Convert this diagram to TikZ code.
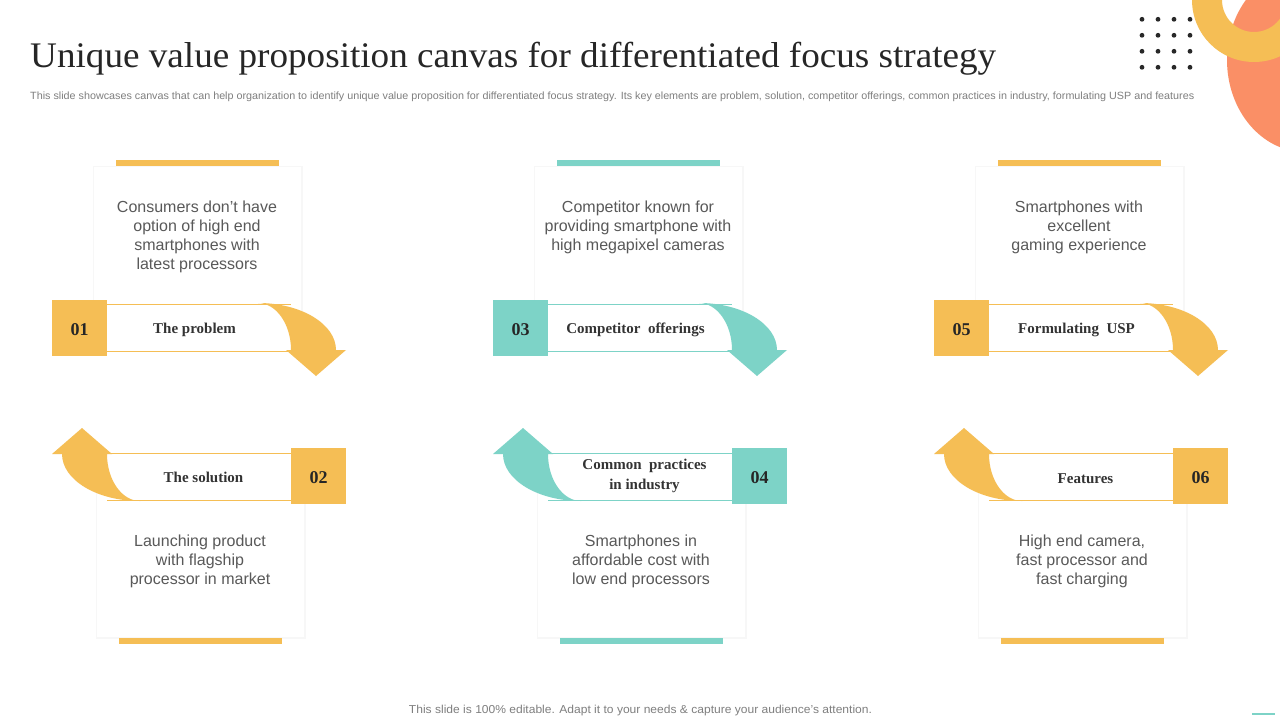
\documentclass[tikz,border=0pt]{standalone}
\usepackage{fontspec}
\setmainfont{Liberation Sans}
\newfontfamily\serifff{Liberation Serif}
\usepackage{graphicx}
\definecolor{cyel}{RGB}{245,190,85}
\definecolor{cteal}{RGB}{125,211,199}
\definecolor{corange}{RGB}{250,143,102}
\definecolor{ctitle}{RGB}{38,38,38}
\definecolor{cbody}{RGB}{89,89,89}
\definecolor{clabel}{RGB}{51,51,51}
\definecolor{csub}{RGB}{127,127,127}
\definecolor{cdot}{RGB}{40,40,40}
\tikzset{
  cardtext/.style={font=\fontsize{16}{19}\selectfont, text=cbody, align=center, inner sep=0pt, anchor=north},
  lbltext/.style={font=\serifff\bfseries\fontsize{15}{20}\selectfont, text=clabel, align=center, inner sep=0pt},
  numtext/.style={font=\serifff\bfseries\fontsize{18}{20}\selectfont, text=ctitle, inner sep=0pt},
  shadowbox/.style={fill=black!3},
  cardbox/.style={fill=white},
}
\newcommand{\unitshapes}[1]{%
  \fill[shadowbox] (92.5,165.5) rectangle (302.5,330);
  \fill[cardbox] (94,167) rectangle (301,330);
  \fill[#1] (116,160) rectangle (279,166);
  \fill[white] (107,304) rectangle (291,351);
  \draw[#1, line width=0.9pt] (107,304) -- (291,304) (107,351) -- (291,351);
  \fill[#1] (258,303) .. controls (301,303) and (336,324) .. (336,350)
     -- (346,350) -- (316,376) -- (286,350) -- (291,350)
     .. controls (291,324) and (276,303) .. (258,303) -- cycle;
  \fill[#1] (52,300) rectangle (107,356);
}
\begin{document}
\begin{tikzpicture}[x=1pt,y=-1pt]
\clip (0,0) rectangle (1280,720);
\fill[white] (0,0) rectangle (1280,720);

% decoration top right
\fill[corange] (1305,60) ellipse [x radius=78, y radius=92];
\fill[cyel, even odd rule] (1254,0) circle [radius=62] (1254,0) circle [radius=32];
\foreach \i in {0,1,2,3}{\foreach \j in {0,1,2,3}{
  \fill[cdot] (1142+16*\i,19.3+16*\j) circle [radius=2.4];}}

% title and subtitle
\node[anchor=base west, inner sep=0pt, text=ctitle] (title) at (30,67)
  {\resizebox{966pt}{\height}{\serifff\fontsize{36}{40}\selectfont Unique value proposition canvas for differentiated focus strategy}};
\node[anchor=west, inner sep=0pt, text=csub] (subtitle) at (30,97)
  {\resizebox{1164pt}{\height}{\fontsize{10.5}{12}\selectfont This slide showcases canvas that can help organization to identify unique value proposition for differentiated focus strategy. Its key elements are problem, solution, competitor offerings, common practices in industry, formulating USP and features}};

% units
\begin{scope}[shift={(0,0)}]\unitshapes{cyel}\end{scope}
\begin{scope}[shift={(441,0)}]\unitshapes{cteal}\end{scope}
\begin{scope}[shift={(882,0)}]\unitshapes{cyel}\end{scope}
\begin{scope}[shift={(398,804)}, scale=-1]\unitshapes{cyel}\end{scope}
\begin{scope}[shift={(839,804)}, scale=-1]\unitshapes{cteal}\end{scope}
\begin{scope}[shift={(1280,804)}, scale=-1]\unitshapes{cyel}\end{scope}

% card texts
\node[cardtext] (t1) at (197,201) {Consumers don’t have\\option of high end\\smartphones with\\latest processors};
\node[cardtext] (t3) at (638,201) {Competitor known for\\providing smartphone with\\high megapixel cameras};
\node[cardtext] (t5) at (1079,201) {Smartphones with\\excellent\\gaming experience};
\node[cardtext] (t2) at (200,535) {Launching product\\with flagship\\processor in market};
\node[cardtext] (t4) at (641,535) {Smartphones in\\affordable cost with\\low end processors};
\node[cardtext] (t6) at (1082,535) {High end camera,\\fast processor and\\fast charging};

% labels
\node[lbltext] (l1) at (194.5,330) {The problem};
\node[lbltext] (l3) at (635.5,330) {Competitor~~offerings};
\node[lbltext] (l5) at (1076.5,330) {Formulating~~USP};
\node[lbltext] (l2) at (203.5,477) {The solution};
\node[lbltext] (l4) at (644.5,476) {Common~~practices\\in industry};
\node[lbltext] (l6) at (1085.5,479) {Features};

% numbers
\node[numtext] (n1) at (79.5,330) {01};
\node[numtext] (n3) at (520.5,330) {03};
\node[numtext] (n5) at (961.5,330) {05};
\node[numtext] (n2) at (318.5,478) {02};
\node[numtext] (n4) at (759.5,478) {04};
\node[numtext] (n6) at (1200.5,478) {06};

% footer
\node[inner sep=0pt, text=csub] (footer) at (640.5,711)
  {\resizebox{463pt}{\height}{\fontsize{11.5}{13}\selectfont This slide is 100\% editable. Adapt it to your needs \& capture your audience’s attention.}};
\draw[cteal, line width=2pt] (1252,714) -- (1275,714);
\end{tikzpicture}
\end{document}
